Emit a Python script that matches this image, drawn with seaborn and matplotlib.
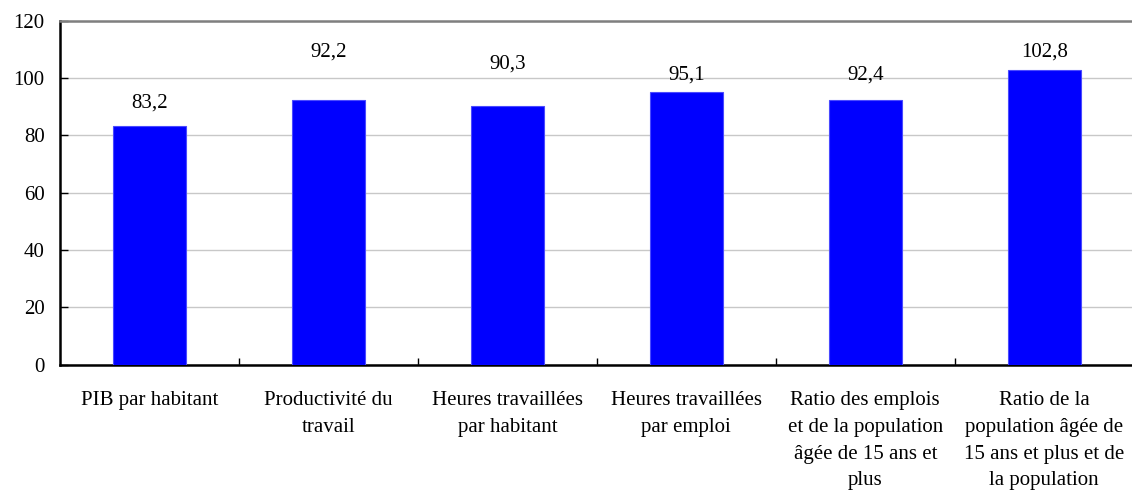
import matplotlib
matplotlib.use("Agg")
import matplotlib.pyplot as plt
from matplotlib.ticker import FixedLocator
import seaborn as sns
import pandas as pd

categories = [
    "PIB par habitant",
    "Productivité du\ntravail",
    "Heures travaillées\npar habitant",
    "Heures travaillées\npar emploi",
    "Ratio des emplois\net de la population\nâgée de 15 ans et\nplus",
    "Ratio de la\npopulation âgée de\n15 ans et plus et de\nla population",
]
values = [83.2, 92.2, 90.3, 95.1, 92.4, 102.8]
value_labels = ["83,2", "92,2", "90,3", "95,1", "92,4", "102,8"]
label_pos = [91.4, 109.1, 104.7, 101.2, 100.9, 109.1]
y_ticks = [0, 20, 40, 60, 80, 100, 120]

sns.set_theme(style="white")
plt.rcParams["font.family"] = ["Liberation Serif", "DejaVu Serif"]

df = pd.DataFrame({"cat": categories, "val": values})

fig = plt.figure(figsize=(11.32, 4.91), dpi=100)
ax = fig.add_axes([60 / 1132, 126.5 / 491, 1 - 60 / 1132 + 0.0015, 343.8 / 491])

sns.barplot(data=df, x="cat", y="val", color="#0000FF", saturation=1,
            width=0.41, edgecolor="#4a4aff", linewidth=0.8, ax=ax, zorder=3)

ax.set_ylim(0, 120)
ax.set_xlim(-0.5, len(categories) - 0.5)
ax.set_yticks(y_ticks)
ax.set_yticklabels([str(t) for t in y_ticks], fontsize=15, color="black")
ax.yaxis.grid(True, color="#c8c8c8", linewidth=1.0, zorder=0)
ax.set_axisbelow(True)
ax.set_xlabel("")
ax.set_ylabel("")

for lab in ax.get_xticklabels():
    lab.set_fontsize(15)
    lab.set_linespacing(1.56)
    lab.set_color("black")
ax.tick_params(axis="x", which="major", length=0, pad=19)
ax.xaxis.set_minor_locator(FixedLocator([i + 0.5 for i in range(len(categories) - 1)]))
ax.tick_params(axis="x", which="minor", direction="in", length=5, width=1, color="black", bottom=True)
ax.tick_params(axis="y", which="major", direction="in", length=6, width=1, color="black", left=True, pad=11)

for sp in ["left", "bottom"]:
    ax.spines[sp].set_color("black")
    ax.spines[sp].set_linewidth(1.8)
ax.spines["top"].set_color("#7f7f7f")
ax.spines["top"].set_linewidth(1.8)
ax.spines["right"].set_visible(False)

for i, (txt, yp) in enumerate(zip(value_labels, label_pos)):
    ax.text(i, yp, txt, ha="center", va="center", fontsize=15, color="black")

fig.savefig("out.png", dpi=100, facecolor="white")
